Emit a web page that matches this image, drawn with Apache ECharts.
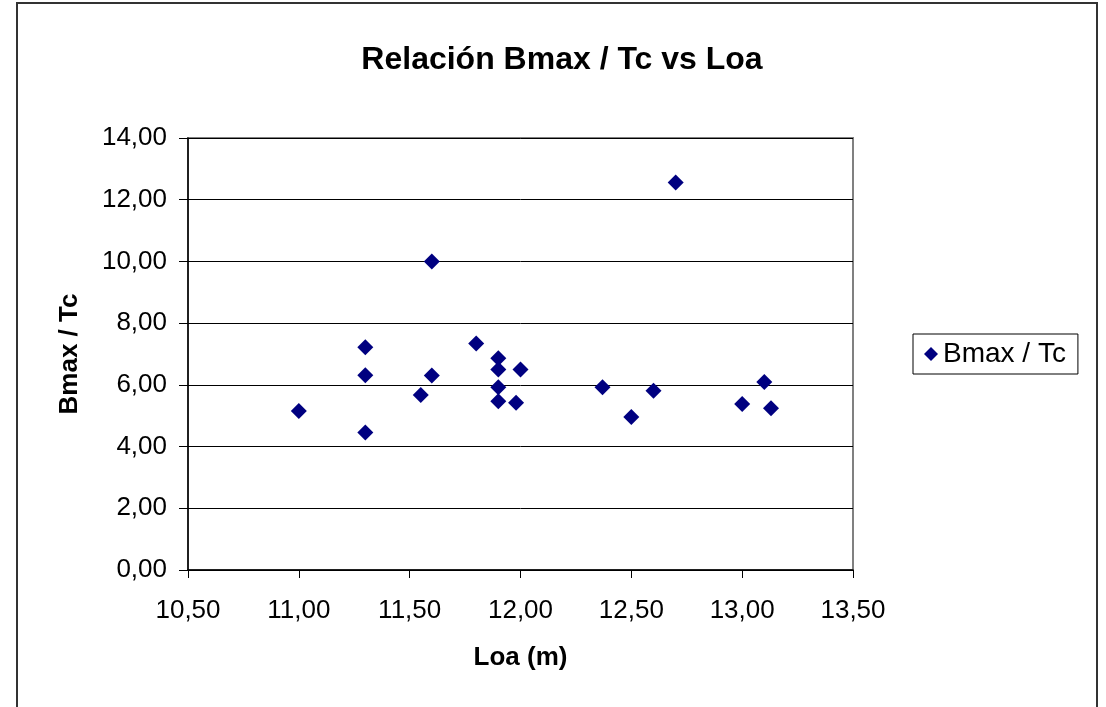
<!DOCTYPE html>
<html>
<head>
<meta charset="utf-8">
<script src="https://cdn.jsdelivr.net/npm/echarts@6/dist/echarts.min.js"></script>
<style>
  html, body { margin: 0; padding: 0; background: #fff; }
  #chart { width: 1106px; height: 707px; }
</style>
</head>
<body>
<div id="chart"></div>
<script>
// Eslora total (m) de cada embarcación
const loa = [11.00, 11.30, 11.30, 11.30, 11.55, 11.60, 11.60, 11.80, 11.90, 11.90,
             11.90, 11.90, 11.98, 12.00, 12.37, 12.50, 12.60, 12.70, 13.00, 13.10, 13.13];
// Relación manga máxima / calado
const bmaxTc = [5.15, 7.22, 6.31, 4.46, 5.67, 10.00, 6.30, 7.34, 6.86, 6.50,
                5.92, 5.47, 5.42, 6.50, 5.92, 4.96, 5.81, 12.56, 5.38, 6.09, 5.24];

const seriesName = 'Bmax / Tc';
const titleText = 'Relación Bmax / Tc vs Loa';
const xName = 'Loa (m)';
const yName = 'Bmax / Tc';

const points = loa.map((x, i) => [x, bmaxTc[i]]);
const fmt = v => v.toFixed(2).replace('.', ',');
const FONT = 'Liberation Sans, Arial, sans-serif';

const chart = echarts.init(document.getElementById('chart'), null, { renderer: 'canvas' });
chart.setOption({
  backgroundColor: '#ffffff',
  animation: false,
  textStyle: { fontFamily: FONT },
  title: {
    text: titleText,
    left: 557, top: 39, textAlign: 'center',
    textStyle: { fontFamily: FONT, fontSize: 32, fontWeight: 'bold', color: '#000' }
  },
  legend: {
    left: 913, top: 334,
    data: [{ name: seriesName, icon: 'diamond' }],
    itemWidth: 14, itemHeight: 14, itemGap: 8,
    padding: [6, 12, 6, 11],
    borderColor: '#000', borderWidth: 1,
    textStyle: { fontFamily: FONT, fontSize: 28, color: '#000' }
  },
  grid: {
    left: 188, top: 138, width: 665, height: 432,
    show: true, borderColor: '#808080', borderWidth: 2, backgroundColor: '#fff'
  },
  xAxis: {
    type: 'value', min: 10.5, max: 13.5, interval: 0.5,
    name: xName, nameLocation: 'middle', nameGap: 75,
    nameTextStyle: { fontFamily: FONT, fontSize: 26, fontWeight: 'bold', color: '#000' },
    axisLine: { lineStyle: { color: '#000', width: 1.5 } },
    axisTick: { show: true, inside: false, length: 8, lineStyle: { color: '#000' } },
    axisLabel: { formatter: fmt, fontFamily: FONT, fontSize: 26, color: '#000', margin: 28 },
    splitLine: { show: false }
  },
  yAxis: {
    type: 'value', min: 0, max: 14, interval: 2,
    name: yName, nameLocation: 'middle', nameGap: 105, nameRotate: 90,
    nameTextStyle: { fontFamily: FONT, fontSize: 26, fontWeight: 'bold', color: '#000' },
    axisLine: { show: true, lineStyle: { color: '#000', width: 1.5 } },
    axisTick: { show: true, inside: false, length: 9, lineStyle: { color: '#000' } },
    axisLabel: { formatter: fmt, fontFamily: FONT, fontSize: 26, color: '#000', margin: 21 },
    splitLine: { show: true, lineStyle: { color: '#000', width: 1 } }
  },
  graphic: [{
    type: 'rect', silent: true, z: 100,
    shape: { x: 17, y: 3, width: 1080, height: 720 },
    style: { fill: 'none', stroke: '#333', lineWidth: 2 }
  }],
  series: [{
    name: seriesName, type: 'scatter',
    symbol: 'diamond', symbolSize: 16,
    itemStyle: { color: '#000080', opacity: 1 },
    emphasis: { disabled: true },
    data: points
  }]
});
</script>
</body>
</html>
